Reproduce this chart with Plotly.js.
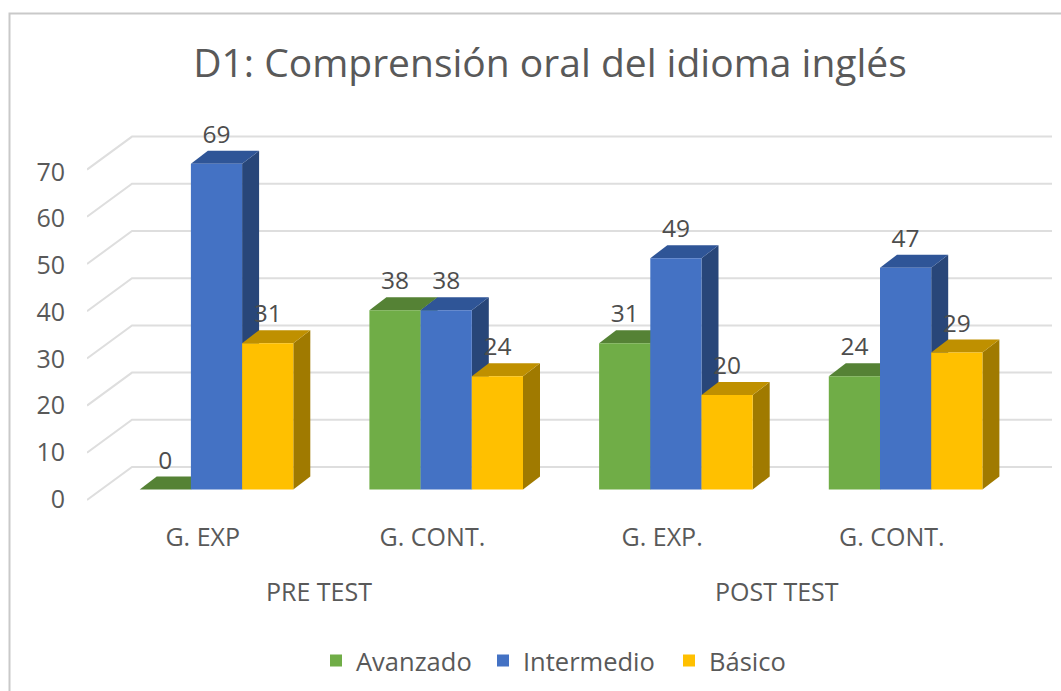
<!DOCTYPE html>
<html>
<head>
<meta charset="utf-8">
<script src="https://cdn.plot.ly/plotly-3.0.1.min.js"></script>
<style>html,body{margin:0;padding:0;background:#fff}#chart{width:1061px;height:691px}</style>
</head>
<body>
<div id="chart"></div>
<script>
const groupLabels = ['G. EXP', 'G. CONT.', 'G. EXP.', 'G. CONT.'];
const phaseLabels = ['PRE TEST', 'POST TEST'];
const phaseCenters = [0.445, 2.44];
const yTicks = [0, 10, 20, 30, 40, 50, 60, 70];
const seriesNames = ['Avanzado', 'Intermedio', 'Básico'];
const avanzado = [0, 38, 31, 24];
const intermedio = [69, 38, 49, 47];
const basico = [31, 24, 20, 29];
const frontColors = ['#70ad47', '#4472c4', '#ffc000'];
const topColors = ['#558235', '#2f5597', '#bf9000'];
const sideColors = ['#43682a', '#284679', '#a07a00'];
const legendWidths = [122, 141, 80];

const seriesValues = [avanzado, intermedio, basico];
const FONT = '"Open Sans", sans-serif';
const INK = '#595959';

// Layout constants (px -> axis units)
const W = 1061, H = 691;
const M = {l: 87, r: 6, t: 120, b: 181};
const pxX = 229.7, pxY = 4.72;
const barW = 51.2 / pxX;
const depthX = 17 / pxX, depthY = 13 / pxY;
const xRange = [(87 - 216.5) / pxX, (1055 - 216.5) / pxX];
const yRange = [(489.5 - 510) / pxY, (489.5 - 120) / pxY];

const wallFrontX = xRange[0];
const wallBackX = (132 - 216.5) / pxX;
const wallRightX = (1052 - 216.5) / pxX;
const wallBackDY = (489.5 - 467) / pxY;
const wallFrontDY = (489.5 - 500) / pxY;

const shapes = [];
// gridlines: floor/wall lines behind everything
yTicks.forEach(v => {
  shapes.push({
    type: 'path', layer: 'below', xref: 'x', yref: 'y',
    path: `M ${wallFrontX} ${v + wallFrontDY} L ${wallBackX} ${v + wallBackDY} L ${wallRightX} ${v + wallBackDY}`,
    line: {color: '#dedede', width: 2}
  });
});
// depth faces of each bar, painted left to right beneath the front faces
const pos = (g, s) => g + (s - 1) * barW;
groupLabels.forEach((_, g) => {
  seriesValues.forEach((vals, s) => {
    const v = vals[g];
    const x0 = pos(g, s) - barW / 2, x1 = x0 + barW;
    shapes.push({
      type: 'path', layer: 'between', xref: 'x', yref: 'y',
      path: `M ${x1} 0 L ${x1 + depthX} ${depthY} L ${x1 + depthX} ${v + depthY} L ${x1} ${v} Z`,
      fillcolor: sideColors[s], line: {width: 0}
    });
    shapes.push({
      type: 'path', layer: 'between', xref: 'x', yref: 'y',
      path: `M ${x0} ${v} L ${x0 + depthX} ${v + depthY} L ${x1 + depthX} ${v + depthY} L ${x1} ${v} Z`,
      fillcolor: topColors[s], line: {width: 0}
    });
  });
});
// chart-area frame (top and left edges only are in view)
const plotW = W - M.l - M.r, plotH = H - M.t - M.b;
const fx = px => (px - M.l) / plotW, fy = py => (H - M.b - py) / plotH;
shapes.push({type: 'path', xref: 'paper', yref: 'paper', layer: 'above',
  path: `M ${fx(9.5)} ${fy(691)} L ${fx(9.5)} ${fy(13.5)} L ${fx(1061)} ${fy(13.5)}`,
  line: {color: '#c9c9c9', width: 2}});

const idx = groupLabels.map((_, i) => i);
const barTraces = seriesNames.map((name, s) => ({
  type: 'bar', name,
  x: idx.map(g => pos(g, s)),
  y: seriesValues[s],
  width: barW,
  legendwidth: legendWidths[s],
  marker: {color: frontColors[s], line: {width: 0}},
  hoverinfo: 'name+y'
}));
const labelTraces = seriesNames.map((name, s) => ({
  type: 'scatter', mode: 'text', showlegend: false, hoverinfo: 'skip',
  x: idx.map(g => pos(g, s)),
  y: seriesValues[s].map(v => v + 27 / pxY),
  text: seriesValues[s].map(String),
  textposition: 'middle center',
  textfont: {family: FONT, size: 24.5, color: '#4d4d4d'}
}));

const layout = {
  width: W, height: H, margin: M,
  paper_bgcolor: '#fff', plot_bgcolor: 'rgba(0,0,0,0)',
  barmode: 'overlay',
  font: {family: FONT, color: INK},
  title: {
    text: 'D1: Comprensión oral del idioma inglés',
    font: {family: FONT, size: 39, color: INK},
    x: 550 / W, xanchor: 'center', xref: 'container',
    y: 1 - 63 / H, yanchor: 'middle', yref: 'container'
  },
  xaxis: {
    range: xRange, showgrid: false, zeroline: false, showline: false, ticks: '',
    tickmode: 'array', tickvals: idx.map(i => i - 0.06), ticktext: groupLabels,
    tickfont: {family: FONT, size: 25, color: INK}, ticklabelstandoff: 10, fixedrange: true
  },
  yaxis: {
    range: yRange, showgrid: false, zeroline: false, showline: false, ticks: '',
    tickmode: 'array', tickvals: yTicks.map(v => v * 0.99 - 2.0), ticktext: yTicks.map(String),
    tickfont: {family: FONT, size: 25, color: INK}, ticklabelstandoff: 21, fixedrange: true
  },
  legend: {
    orientation: 'h', x: fx(316), xanchor: 'left', y: fy(661), yanchor: 'middle',
    font: {family: FONT, size: 25.5, color: INK}, traceorder: 'normal',
    itemclick: false, itemdoubleclick: false
  },
  annotations: phaseLabels.map((t, i) => ({
    text: t, xref: 'x', yref: 'paper', x: phaseCenters[i], y: fy(591),
    xanchor: 'center', yanchor: 'middle', showarrow: false,
    font: {family: FONT, size: 25, color: INK}
  })),
  shapes
};
Plotly.newPlot('chart', barTraces.concat(labelTraces), layout, {displayModeBar: false, responsive: false});
</script>
</body>
</html>
